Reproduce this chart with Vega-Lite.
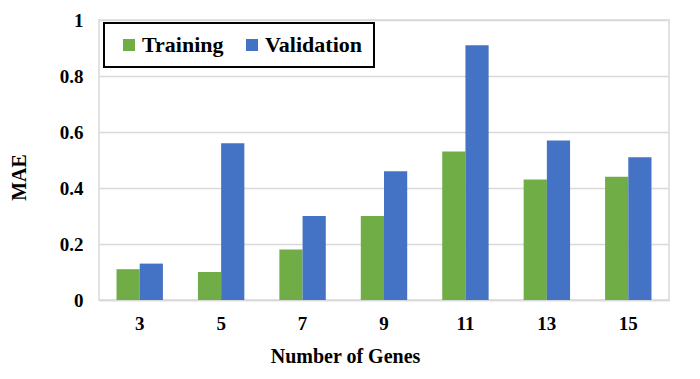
{
  "$schema": "https://vega.github.io/schema/vega-lite/v6.json",
  "autosize": "none",
  "width": 570,
  "height": 280,
  "padding": {"left": 99, "top": 20, "right": 31, "bottom": 79},
  "background": "white",
  "config": {
    "font": "Liberation Serif",
    "view": {"stroke": "#d9d9d9", "strokeWidth": 1.5},
    "legend": {"strokeColor": "black", "fillColor": "white", "padding": 11, "strokeWidth": 2, "labelFont": "Liberation Serif"},
    "axis": {"labelFont": "Liberation Serif", "titleFont": "Liberation Serif"}
  },
  "data": {
    "values": [
      {"genes": "3", "set": "Training", "mae": 0.11},
      {"genes": "3", "set": "Validation", "mae": 0.13},
      {"genes": "5", "set": "Training", "mae": 0.10},
      {"genes": "5", "set": "Validation", "mae": 0.56},
      {"genes": "7", "set": "Training", "mae": 0.18},
      {"genes": "7", "set": "Validation", "mae": 0.30},
      {"genes": "9", "set": "Training", "mae": 0.30},
      {"genes": "9", "set": "Validation", "mae": 0.46},
      {"genes": "11", "set": "Training", "mae": 0.53},
      {"genes": "11", "set": "Validation", "mae": 0.91},
      {"genes": "13", "set": "Training", "mae": 0.43},
      {"genes": "13", "set": "Validation", "mae": 0.57},
      {"genes": "15", "set": "Training", "mae": 0.44},
      {"genes": "15", "set": "Validation", "mae": 0.51}
    ]
  },
  "mark": {"type": "bar"},
  "encoding": {
    "x": {
      "field": "genes",
      "type": "nominal",
      "sort": ["3", "5", "7", "9", "11", "13", "15"],
      "scale": {"paddingInner": 0.43, "paddingOuter": 0.215},
      "axis": {
        "title": "Number of Genes",
        "titleFontSize": 20,
        "titleFontWeight": "bold",
        "titleColor": "black",
        "titleX": 246,
        "titleY": 62,
        "titleAlign": "center",
        "titleBaseline": "alphabetic",
        "labelAngle": 0,
        "labelFontSize": 19,
        "labelFontWeight": "bold",
        "labelColor": "black",
        "labelPadding": 14,
        "ticks": false,
        "domainColor": "#d9d9d9",
        "domainWidth": 1.5
      }
    },
    "xOffset": {"field": "set", "type": "nominal"},
    "y": {
      "field": "mae",
      "type": "quantitative",
      "scale": {"domain": [0, 1]},
      "axis": {
        "title": "MAE",
        "titleFontSize": 20,
        "titleFontWeight": "bold",
        "titleColor": "black",
        "titleAngle": -90,
        "titleX": -74,
        "titleY": 157,
        "titleAlign": "center",
        "titleBaseline": "alphabetic",
        "values": [0, 0.2, 0.4, 0.6, 0.8, 1],
        "format": ".1~f",
        "labelFontSize": 19,
        "labelFontWeight": "bold",
        "labelColor": "black",
        "labelPadding": 16,
        "ticks": false,
        "domain": false,
        "gridColor": "#d9d9d9",
        "gridWidth": 1.5
      }
    },
    "color": {
      "field": "set",
      "type": "nominal",
      "scale": {"domain": ["Training", "Validation"], "range": ["#70ad47", "#4472c4"]},
      "legend": {
        "title": null,
        "orient": "none",
        "legendX": 5,
        "legendY": 3,
        "direction": "horizontal",
        "symbolType": "square",
        "symbolSize": 144,
        "symbolStrokeWidth": 0,
        "symbolOffset": 3,
        "labelOffset": 2,
        "labelFontSize": 22,
        "labelFontWeight": "bold",
        "labelColor": "black",
        "columnPadding": 14,
        "offset": 0
      }
    }
  }
}
